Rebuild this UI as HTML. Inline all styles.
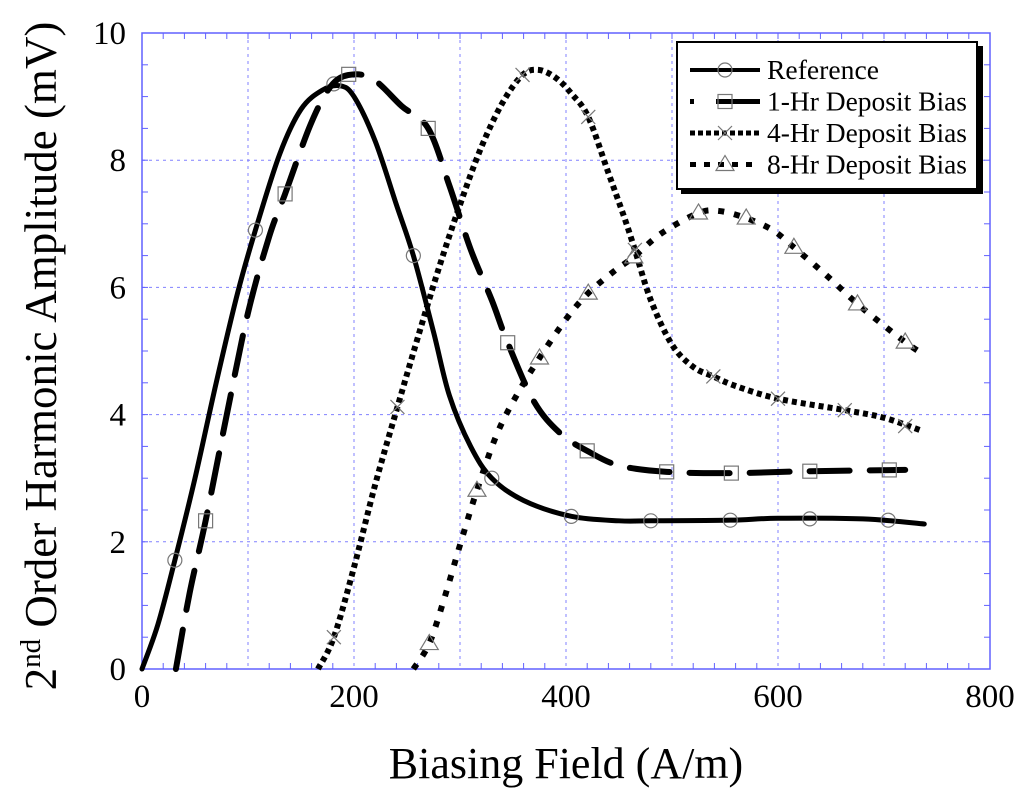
<!DOCTYPE html>
<html><head><meta charset="utf-8"><style>
body{margin:0;background:#fff}
svg{display:block;font-family:"Liberation Serif",serif}
</style></head><body>
<svg id="c" width="1024" height="793" viewBox="0 0 1024 793"></svg>
<script>
const refX=[0,15,31,50,70,90,107,130,150,170,187,200,220,240,256,275,290,310,330,360,405,450,480,555,600,680,738];
const refY=[0,0.7,1.71,3.0,4.5,5.9,6.9,8.1,8.8,9.1,9.17,9.0,8.3,7.3,6.5,5.3,4.3,3.5,3.0,2.65,2.4,2.33,2.33,2.34,2.37,2.36,2.28];
const refMX=[31,107,181,256,330,405,480,555,630,704];
const refMY=[1.71,6.9,9.2,6.5,3.0,2.4,2.33,2.34,2.36,2.34];
const h1X=[32,45,60,80,100,120,135,160,180,200,220,245,270,290,310,330,345,370,395,420,450,495,556,630,720];
const h1Y=[0,1.2,2.33,4.0,5.6,6.8,7.47,8.6,9.2,9.35,9.25,8.85,8.5,7.6,6.6,5.8,5.13,4.2,3.7,3.43,3.2,3.1,3.08,3.11,3.13];
const h1MX=[60,135,195,270,345,420,495,556,630,705];
const h1MY=[2.33,7.47,9.35,8.5,5.13,3.43,3.1,3.08,3.11,3.13];
const h4X=[166,181,200,220,241,260,280,300,320,340,359,374,390,405,421,440,455,465,480,500,520,539,560,600,663,700,735];
const h4Y=[0,0.5,1.6,2.9,4.12,5.2,6.3,7.3,8.2,8.9,9.34,9.42,9.3,9.05,8.68,7.8,7.1,6.59,5.8,5.1,4.75,4.6,4.45,4.25,4.07,3.95,3.75];
const h4MX=[181,241,359,421,465,539,600,663,720];
const h4MY=[0.5,4.12,9.34,8.68,6.59,4.6,4.25,4.07,3.82];
const h8X=[256,271,285,300,316,335,355,375,400,421,445,464,490,525,545,570,595,615,645,675,700,720,734];
const h8Y=[0,0.4,1.1,1.95,2.81,3.7,4.35,4.89,5.5,5.91,6.25,6.48,6.85,7.17,7.2,7.09,6.9,6.63,6.2,5.74,5.4,5.14,4.98];
const h8MX=[271,316,375,421,464,525,570,615,675,720];
const h8MY=[0.4,2.81,4.89,5.91,6.48,7.17,7.09,6.63,5.74,5.14];
const xTicks=[0,200,400,600,800];
const yTicks=[0,2,4,6,8,10];

const L=142,R=990,T=33,B=669;
const sx=v=>L+(R-L)*v/800, sy=v=>B-(B-T)*v/10;
const NS='http://www.w3.org/2000/svg', svg=document.getElementById('c');
function mk(t,a,p){const e=document.createElementNS(NS,t);for(const k in a)e.setAttribute(k,a[k]);(p||svg).appendChild(e);return e;}

for(let v=100;v<800;v+=100){const g=mk('line',{x1:sx(v),x2:sx(v),y1:T,y2:B,stroke:'#8080ff','stroke-width':1,'stroke-dasharray':'3,4'});

}
for(let v=2;v<10;v+=2){const g=mk('line',{x1:L,x2:R,y1:sy(v),y2:sy(v),stroke:'#8080ff','stroke-width':1,'stroke-dasharray':'3,4'});

}
for(let v=0;v<=800;v+=20){const t=mk('line',{x1:sx(v),x2:sx(v),y1:B,y2:B-(v%100?6:0),stroke:'#6060ff'});
const t2=mk('line',{x1:sx(v),x2:sx(v),y1:T,y2:T+6,stroke:'#6060ff'});}
for(let v=0;v<=10;v+=0.5){const t=mk('line',{x1:L,x2:L+6,y1:sy(v),y2:sy(v),stroke:'#6060ff'});
const t2=mk('line',{x1:R,x2:R-6,y1:sy(v),y2:sy(v),stroke:'#6060ff'});}
const fr=mk('rect',{x:L,y:T,width:R-L,height:B-T,fill:'none',stroke:'#6060ff','stroke-width':1.5});



xTicks.forEach(v=>{const t=mk('text',{x:sx(v),y:707,'font-size':33,'text-anchor':'middle'});t.textContent=v;

});
yTicks.forEach(v=>{const t=mk('text',{x:126,y:sy(v)+11,'font-size':33,'text-anchor':'end'});t.textContent=v;

});
const xt=mk('text',{x:566,y:778,'font-size':44,'text-anchor':'middle'});xt.textContent='Biasing Field (A/m)';


const yt=mk('text',{x:0,y:0,'font-size':45,'text-anchor':'middle',transform:'translate(56,356) rotate(-90)'});
yt.innerHTML='2<tspan font-size="29" dy="-16">nd</tspan><tspan dy="16"> Order Harmonic Amplitude (mV)</tspan>';



function pathD(X,Y){const p=X.map((x,i)=>[sx(x),sy(Y[i])]);let d='M'+p[0][0]+','+p[0][1];
for(let i=0;i<p.length-1;i++){const p0=p[i-1]||p[i],p1=p[i],p2=p[i+1],p3=p[i+2]||p2;
d+=' C'+(p1[0]+(p2[0]-p0[0])/6)+','+(p1[1]+(p2[1]-p0[1])/6)+' '+(p2[0]-(p3[0]-p1[0])/6)+','+(p2[1]-(p3[1]-p1[1])/6)+' '+p2[0]+','+p2[1];}return d;}
function marker(type,x,y,g){const s=7;
if(type==='o')return mk('circle',{cx:x,cy:y,r:s,fill:'none',stroke:'#777','stroke-width':1.2},g);
if(type==='s')return mk('rect',{x:x-s,y:y-s,width:2*s,height:2*s,fill:'none',stroke:'#777','stroke-width':1.2},g);
if(type==='x')return mk('path',{d:`M${x-s},${y-s}L${x+s},${y+s}M${x-s},${y+s}L${x+s},${y-s}`,stroke:'#777','stroke-width':1.2},g);
return mk('path',{d:`M${x},${y-s-2}L${x+s+2},${y+s-1}L${x-s-2},${y+s-1}Z`,fill:'none',stroke:'#777','stroke-width':1.2},g);}
const series=[
 {n:'reference',X:refX,Y:refY,MX:refMX,MY:refMY,m:'o',dash:'none',cap:'round'},
 {n:'1hr-deposit',X:h1X,Y:h1Y,MX:h1MX,MY:h1MY,m:'s',dash:'40,20',cap:'round'},
 {n:'4hr-deposit',X:h4X,Y:h4Y,MX:h4MX,MY:h4MY,m:'x',dash:'5,4',cap:'butt'},
 {n:'8hr-deposit',X:h8X,Y:h8Y,MX:h8MX,MY:h8MY,m:'t',dash:'6,10',cap:'butt'}];
series.forEach(s=>{const g=mk('g',{});


const p=mk('path',{d:pathD(s.X,s.Y),fill:'none',stroke:'#000','stroke-width':s.n==='reference'?5:6,'stroke-dasharray':s.dash,'stroke-linecap':s.cap},g);


s.MX.forEach((x,i)=>{const m=marker(s.m,sx(x),sy(s.MY[i]),g);

});});

const lg=mk('g',{});


mk('rect',{x:681,y:46,width:302,height:148,fill:'#000'},lg);
mk('rect',{x:677,y:42,width:300,height:147,fill:'#fff',stroke:'#000','stroke-width':2},lg);
const labels=['Reference','1-Hr Deposit Bias','4-Hr Deposit Bias','8-Hr Deposit Bias'];
series.forEach((s,i)=>{const y=70+i*31.5;
const e=mk('g',{},lg);


const ld=[ 'none','4,22,45,0','5,3','6,8'][i];
mk('line',{x1:690,x2:760,y1:y,y2:y,stroke:'#000','stroke-width':i===0?4:5,'stroke-dasharray':ld},e);
marker(s.m,725,y,e);
const t=mk('text',{x:767,y:y+9,'font-size':27,textLength:i===0?112:200,lengthAdjust:'spacingAndGlyphs'},e);t.textContent=labels[i];});
</script>
</body></html>
